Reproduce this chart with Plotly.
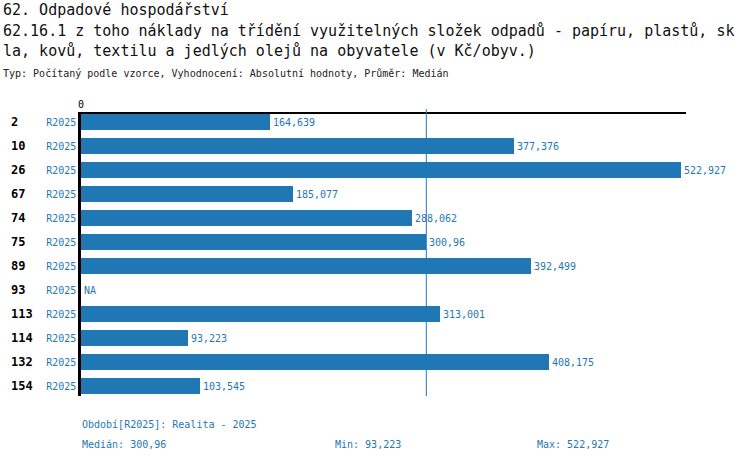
import numpy as np
import plotly.graph_objects as go

# data
row_ids = ["2", "10", "26", "67", "74", "75", "89", "93", "113", "114", "132", "154"]
period = "R2025"
values = [164.639, 377.376, 522.927, 185.077, 288.062, 300.96, 392.499, None,
          313.001, 93.223, 408.175, 103.545]

title_lines = [
    "62. Odpadové hospodářství",
    "62.16.1 z toho náklady na třídění využitelných složek odpadů - papíru, plastů, sk",
    "la, kovů, textilu a jedlých olejů na obyvatele (v Kč/obyv.)",
]
subtitle = "Typ: Počítaný podle vzorce, Vyhodnocení: Absolutní hodnoty, Průměr: Medián"
period_note = "Období[R2025]: Realita - 2025"

BLUE = "#1f77b4"
MONO = "DejaVu Sans Mono"
W, H = 750, 462
L, R, T, B = 81, 686, 114, 396


def fmt(v):
    return f"{v:g}".replace(".", ",")


def px(x):
    return (x - L) / (R - L)


def py(y):
    return (B - y) / (B - T)


known = np.array([v for v in values if v is not None])
vmed, vmin, vmax = np.median(known), known.min(), known.max()

xmax = vmax * (R - L) / 600.0
ypos = list(range(len(row_ids)))

fig = go.Figure()
fig.add_trace(go.Bar(
    x=[v if v is not None else 0 for v in values], y=ypos, orientation="h",
    marker=dict(color=BLUE, line=dict(width=0)), width=0.667,
    text=[fmt(v) if v is not None else "NA" for v in values],
    textposition="outside", cliponaxis=False, constraintext="none",
    textfont=dict(family=MONO, size=10, color=BLUE),
    hoverinfo="skip",
))

# median line
fig.add_shape(type="line", xref="x", yref="paper", x0=vmed, x1=vmed,
              y0=0, y1=py(109), line=dict(color=BLUE, width=1))

ann = []
for i, t in enumerate(title_lines):
    ann.append(dict(text=t, x=px(1), y=py(10 + 20.5 * i), xanchor="left",
                    font=dict(family=MONO, size=15, color="#111")))
ann.append(dict(text=subtitle, x=px(1), y=py(73), xanchor="left",
                font=dict(family=MONO, size=10, color="#222")))
for i, rid in enumerate(row_ids):
    ann.append(dict(text="<b>" + rid + "</b>", x=px(9), y=i, yref="y",
                    xanchor="left", font=dict(family=MONO, size=12, color="black")))
ann.append(dict(text=period_note, x=px(80), y=py(424), xanchor="left",
                font=dict(family=MONO, size=10, color=BLUE)))
ann.append(dict(text="Medián: " + fmt(vmed), x=px(80), y=py(444), xanchor="left",
                font=dict(family=MONO, size=10, color=BLUE)))
ann.append(dict(text="Min: " + fmt(vmin), x=px(333), y=py(444), xanchor="left",
                font=dict(family=MONO, size=10, color=BLUE)))
ann.append(dict(text="Max: " + fmt(vmax), x=px(535), y=py(444), xanchor="left",
                font=dict(family=MONO, size=10, color=BLUE)))
for a in ann:
    a.setdefault("xref", "paper")
    a.setdefault("yref", "paper")
    a.update(showarrow=False, yanchor="middle")

fig.update_layout(
    width=W, height=H,
    margin=dict(l=L, r=W - R, t=T, b=H - B, pad=0, autoexpand=False),
    plot_bgcolor="white", paper_bgcolor="white",
    showlegend=False, bargap=0,
    annotations=ann,
    xaxis=dict(range=[0, xmax], side="top", tickvals=[0], ticktext=["0"],
               showgrid=False, zeroline=False, showline=True,
               linecolor="black", linewidth=2, ticks="", automargin=False,
               tickfont=dict(family=MONO, size=10, color="black")),
    yaxis=dict(range=[11.4167, -0.3333], showgrid=False, zeroline=False,
               showline=True, linecolor="black", linewidth=2.5, ticks="",
               automargin=False,
               tickvals=ypos, ticktext=[period] * len(row_ids),
               tickfont=dict(family=MONO, size=10, color=BLUE)),
)

# the page has a default 8px body margin; drop it so the figure sits at (0, 0)
fig.write_html("out.html", config={"displayModeBar": False},
               post_script="document.body.style.margin = '0';")
